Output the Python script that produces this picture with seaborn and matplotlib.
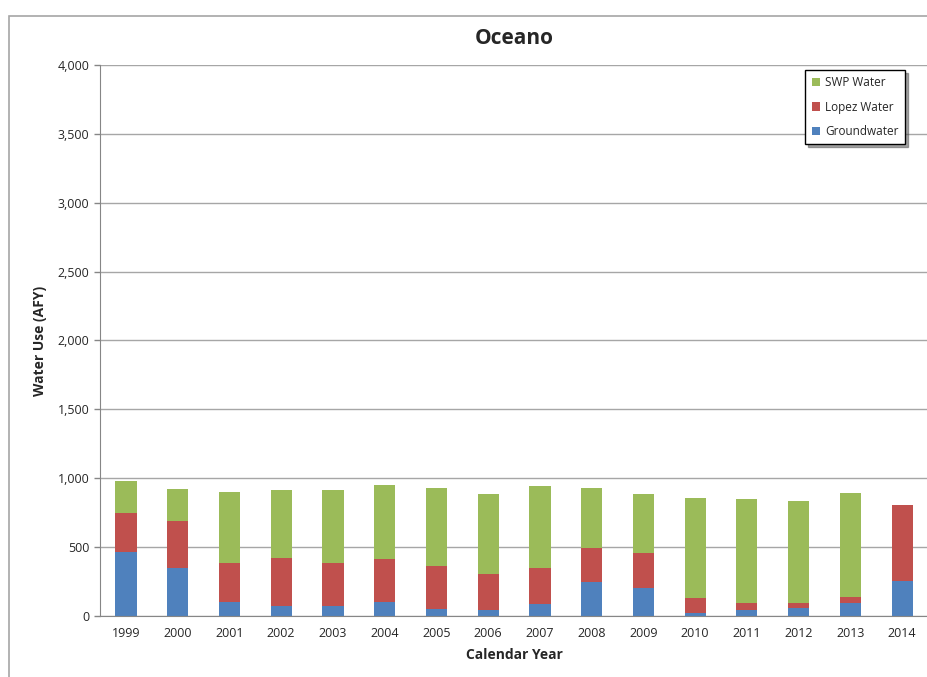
import numpy as np
import pandas as pd
import seaborn as sns
import matplotlib.pyplot as plt
from matplotlib.patches import Rectangle
from matplotlib.ticker import FuncFormatter, FixedLocator

years = ['1999', '2000', '2001', '2002', '2003', '2004', '2005', '2006',
         '2007', '2008', '2009', '2010', '2011', '2012', '2013', '2014']
groundwater = [462, 348, 104, 70, 75, 104, 49, 41, 87, 245, 206, 24, 41, 58, 92, 254]
lopez = [288, 339, 283, 349, 312, 307, 314, 264, 259, 249, 251, 104, 56, 39, 44, 552]
swp = [228, 235, 513, 496, 528, 540, 566, 580, 598, 438, 427, 727, 753, 740, 757, 0]

df = pd.DataFrame({'year': years, 'Groundwater': groundwater,
                   'Lopez Water': lopez, 'SWP Water': swp})
df['lopez_top'] = df['Groundwater'] + df['Lopez Water']
df['swp_top'] = df['lopez_top'] + df['SWP Water']

sns.set_style('white')
plt.rcParams['font.family'] = ['Open Sans', 'DejaVu Sans']

fig = plt.figure(figsize=(9.28, 6.77), dpi=100)
ax = fig.add_axes([0.1078, 0.0901, 0.8922, 0.8139])

# chart frame like the spreadsheet export
fig.patches.append(Rectangle((0.0097, -0.05), 1.2, 1.0 - 0.0236 + 0.05,
                             transform=fig.transFigure, fill=False,
                             edgecolor='#a6a6a6', linewidth=1.2))

ax.yaxis.grid(True, color='#a6a6a6', linewidth=1)
ax.set_axisbelow(True)

# stacked bars drawn as overlapping cumulative totals
w = 0.41
sns.barplot(data=df, x='year', y='swp_top', color='#9BBB59', width=w,
            saturation=1, linewidth=0, ax=ax, label='SWP Water')
sns.barplot(data=df, x='year', y='lopez_top', color='#C0504D', width=w,
            saturation=1, linewidth=0, ax=ax, label='Lopez Water')
sns.barplot(data=df, x='year', y='Groundwater', color='#4F81BD', width=w,
            saturation=1, linewidth=0, ax=ax, label='Groundwater')

ax.set_ylim(0, 4000)
ax.set_xlim(-0.5, 15.5)
ax.set_yticks(np.arange(0, 4001, 500))
ax.yaxis.set_major_formatter(FuncFormatter(lambda v, p: f'{int(v):,}'))
ax.xaxis.set_minor_locator(FixedLocator(np.arange(-0.5, 16, 1)))
ax.tick_params(axis='x', which='major', length=0, labelsize=9, pad=8)
ax.tick_params(axis='x', which='minor', length=5, color='#868686', width=1)
ax.tick_params(axis='y', length=4, color='#868686', width=1, labelsize=9, left=True)

for s in ['top', 'right']:
    ax.spines[s].set_visible(False)
for s in ['left', 'bottom']:
    ax.spines[s].set_color('#868686')

ax.set_xlabel('Calendar Year', fontsize=10, fontweight='bold', labelpad=6)
ax.set_ylabel('Water Use (AFY)', fontsize=10, fontweight='bold', labelpad=8)
ax.set_title('Oceano', fontsize=15, fontweight='bold', pad=15)

leg = ax.legend(loc='upper right', bbox_to_anchor=(0.972, 0.991), fontsize=8.5,
                borderaxespad=0, frameon=True, fancybox=False, shadow=True,
                edgecolor='black', handlelength=0.7, handleheight=0.7,
                labelspacing=0.95, handletextpad=0.4, borderpad=0.55)
leg.get_frame().set_linewidth(1.0)

fig.savefig('out.png', dpi=100)
